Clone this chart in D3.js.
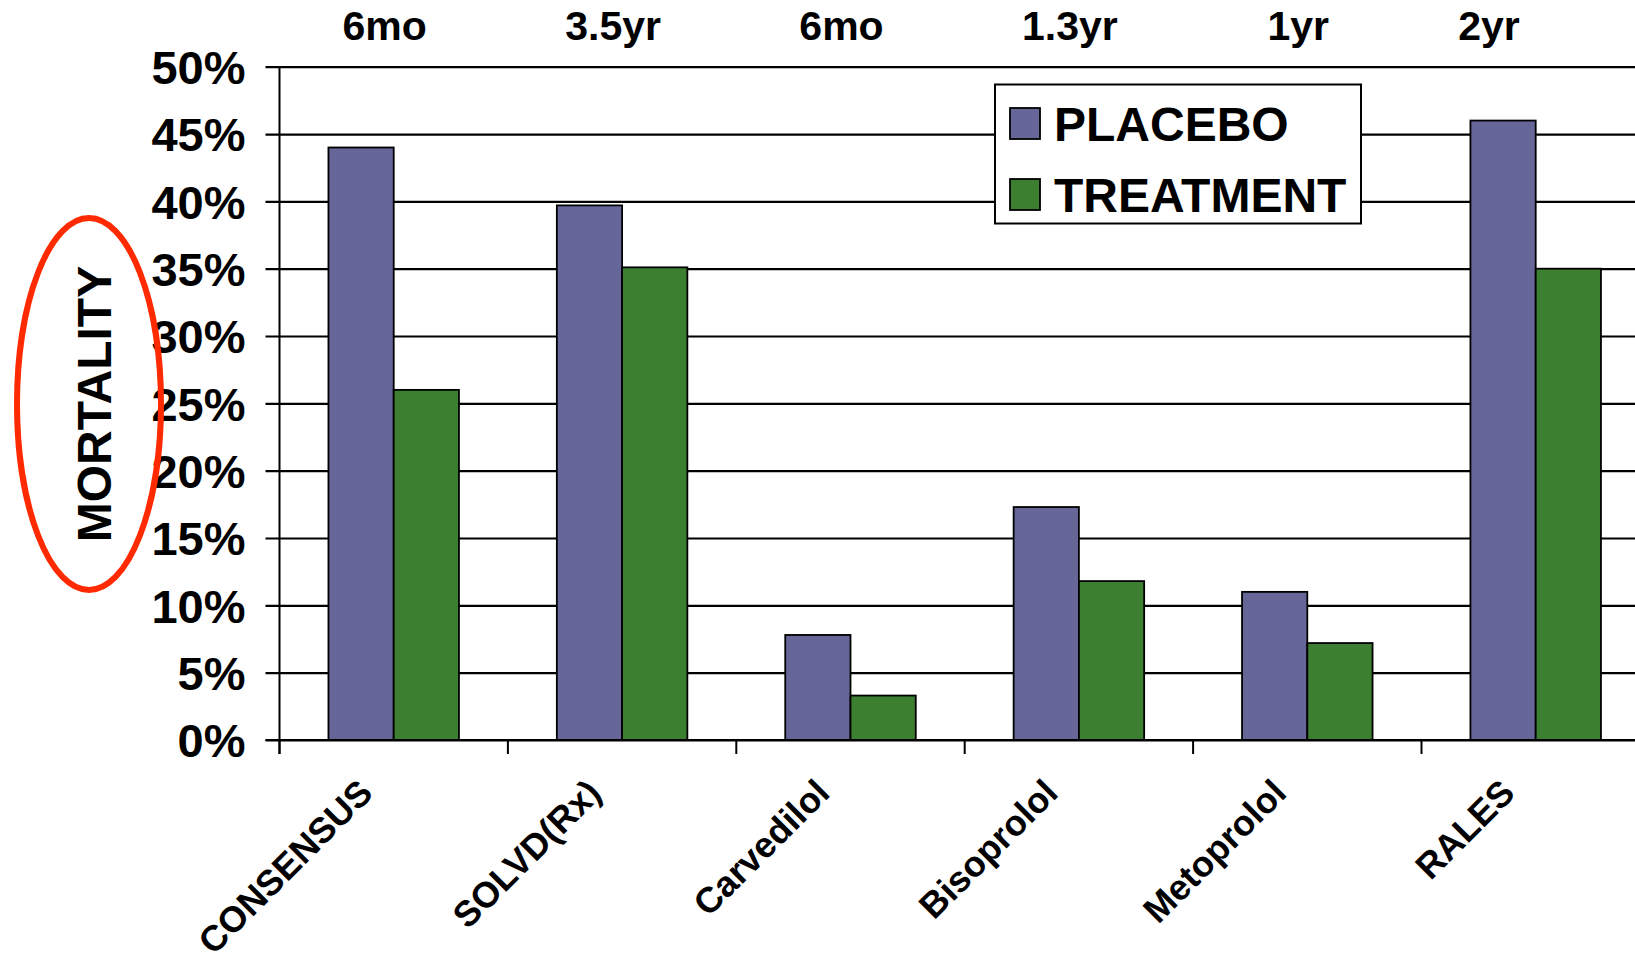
<!DOCTYPE html>
<html>
<head>
<meta charset="utf-8">
<script src="https://cdn.jsdelivr.net/npm/d3@7"></script>
<style>
  html, body { margin: 0; padding: 0; background: #fff; }
  svg { display: block; }
  text { font-family: "Liberation Sans", Arial, sans-serif; font-weight: bold; fill: #000; }
</style>
</head>
<body>
<svg id="chart" width="1635" height="964"></svg>
<script>
// Trials and follow-up durations
const trials = ["CONSENSUS", "SOLVD(Rx)", "Carvedilol", "Bisoprolol", "Metoprolol", "RALES"];
const followUp = ["6mo", "3.5yr", "6mo", "1.3yr", "1yr", "2yr"];

// Mortality (fraction) per arm
const placebo = [0.44, 0.397, 0.078, 0.173, 0.110, 0.46];
const treatment = [0.26, 0.351, 0.033, 0.118, 0.072, 0.35];

const seriesNames = ["PLACEBO", "TREATMENT"];
const seriesColors = ["#666699", "#3c7f30"];
const yTicks = [0, 0.05, 0.10, 0.15, 0.20, 0.25, 0.30, 0.35, 0.40, 0.45, 0.50];

const W = 1635;
const svg = d3.select("#chart");

const plotLeft = 279.5, plotBottom = 740, plotTop = 66.7;
const step = 228.4;

const x = d3.scaleBand().domain(trials).range([plotLeft, plotLeft + step * trials.length]).padding(0);
const x1 = d3.scaleBand().domain(seriesNames).range([0, x.bandwidth()])
  .paddingInner(0).paddingOuter(0.75);
const y = d3.scaleLinear().domain([0, 0.5]).range([plotBottom, plotTop]);
const color = d3.scaleOrdinal().domain(seriesNames).range(seriesColors);

// Horizontal gridlines with tick marks to the left of the axis
const yAxis = d3.axisLeft(y).tickValues(yTicks).tickFormat(d3.format(".0%"))
  .tickSize(-(W - plotLeft)).tickSizeOuter(0).tickPadding(0);
const gy = svg.append("g").attr("transform", `translate(${plotLeft},0)`).call(yAxis);
gy.select(".domain").remove();
gy.selectAll(".tick line").attr("x1", -14).attr("stroke", "#000").attr("stroke-width", 2.2);
gy.selectAll(".tick text")
  .attr("x", -34).attr("dy", "0.36em")
  .style("font-size", "47px").style("font-family", "'Liberation Sans', Arial, sans-serif")
  .style("font-weight", "bold").attr("fill", "#000");

// Vertical axis line
svg.append("line").attr("x1", plotLeft).attr("x2", plotLeft).attr("y1", plotTop).attr("y2", plotBottom + 14)
  .attr("stroke", "#000").attr("stroke-width", 2);

// Category boundary ticks below the baseline
const boundaries = trials.map(t => x(t));
svg.append("g").selectAll("line").data(boundaries).join("line")
  .attr("x1", d => d).attr("x2", d => d)
  .attr("y1", plotBottom).attr("y2", plotBottom + 14)
  .attr("stroke", "#000").attr("stroke-width", 2);

// Bars
const rows = trials.map((t, i) => ({ trial: t, values: [placebo[i], treatment[i]] }));
const groups = svg.append("g").selectAll("g").data(rows).join("g")
  .attr("transform", d => `translate(${x(d.trial)},0)`);
groups.selectAll("rect")
  .data(d => d.values.map((v, j) => ({ key: seriesNames[j], value: v })))
  .join("rect")
  .attr("x", d => x1(d.key))
  .attr("width", x1.bandwidth())
  .attr("y", d => y(d.value))
  .attr("height", d => plotBottom - y(d.value))
  .attr("fill", d => color(d.key))
  .attr("stroke", "#000").attr("stroke-width", 1.8);

// Baseline
svg.append("line").attr("x1", plotLeft - 14).attr("x2", W).attr("y1", plotBottom).attr("y2", plotBottom)
  .attr("stroke", "#000").attr("stroke-width", 2.2);

// Follow-up duration above each trial (kept clear of the right edge)
svg.append("g").selectAll("text").data(trials).join("text")
  .attr("x", d => Math.min(x(d) + x.bandwidth() / 2 - 9, W - 146))
  .attr("y", 40)
  .attr("text-anchor", "middle")
  .style("font-size", "41px")
  .text((d, i) => followUp[i]);

// Rotated trial names
svg.append("g").selectAll("text").data(trials).join("text")
  .attr("transform", d => `translate(${x(d) + x.bandwidth() / 2 - 19},${plotBottom + 55}) rotate(-45)`)
  .attr("text-anchor", "end")
  .style("font-size", "36px")
  .text(d => d);

// Y axis title
svg.append("text")
  .attr("transform", `translate(111,404) rotate(-90)`)
  .attr("text-anchor", "middle")
  .style("font-size", "48px")
  .text("MORTALITY");

// Legend
const lg = svg.append("g");
lg.append("rect").attr("x", 995).attr("y", 84.5).attr("width", 366).attr("height", 139)
  .attr("fill", "#fff").attr("stroke", "#000").attr("stroke-width", 2);
const items = lg.selectAll("g").data(seriesNames).join("g")
  .attr("transform", (d, i) => `translate(0,${i * 71})`);
items.append("rect").attr("x", 1010).attr("y", 108).attr("width", 30).attr("height", 31)
  .attr("fill", d => color(d)).attr("stroke", "#000").attr("stroke-width", 1.8);
items.append("text").attr("x", 1054).attr("y", 141).style("font-size", "48px").text(d => d);

// Highlight around the axis title
svg.append("ellipse").attr("cx", 89).attr("cy", 404).attr("rx", 72).attr("ry", 186)
  .attr("fill", "none").attr("stroke", "#ff2a00").attr("stroke-width", 6);
</script>
</body>
</html>
